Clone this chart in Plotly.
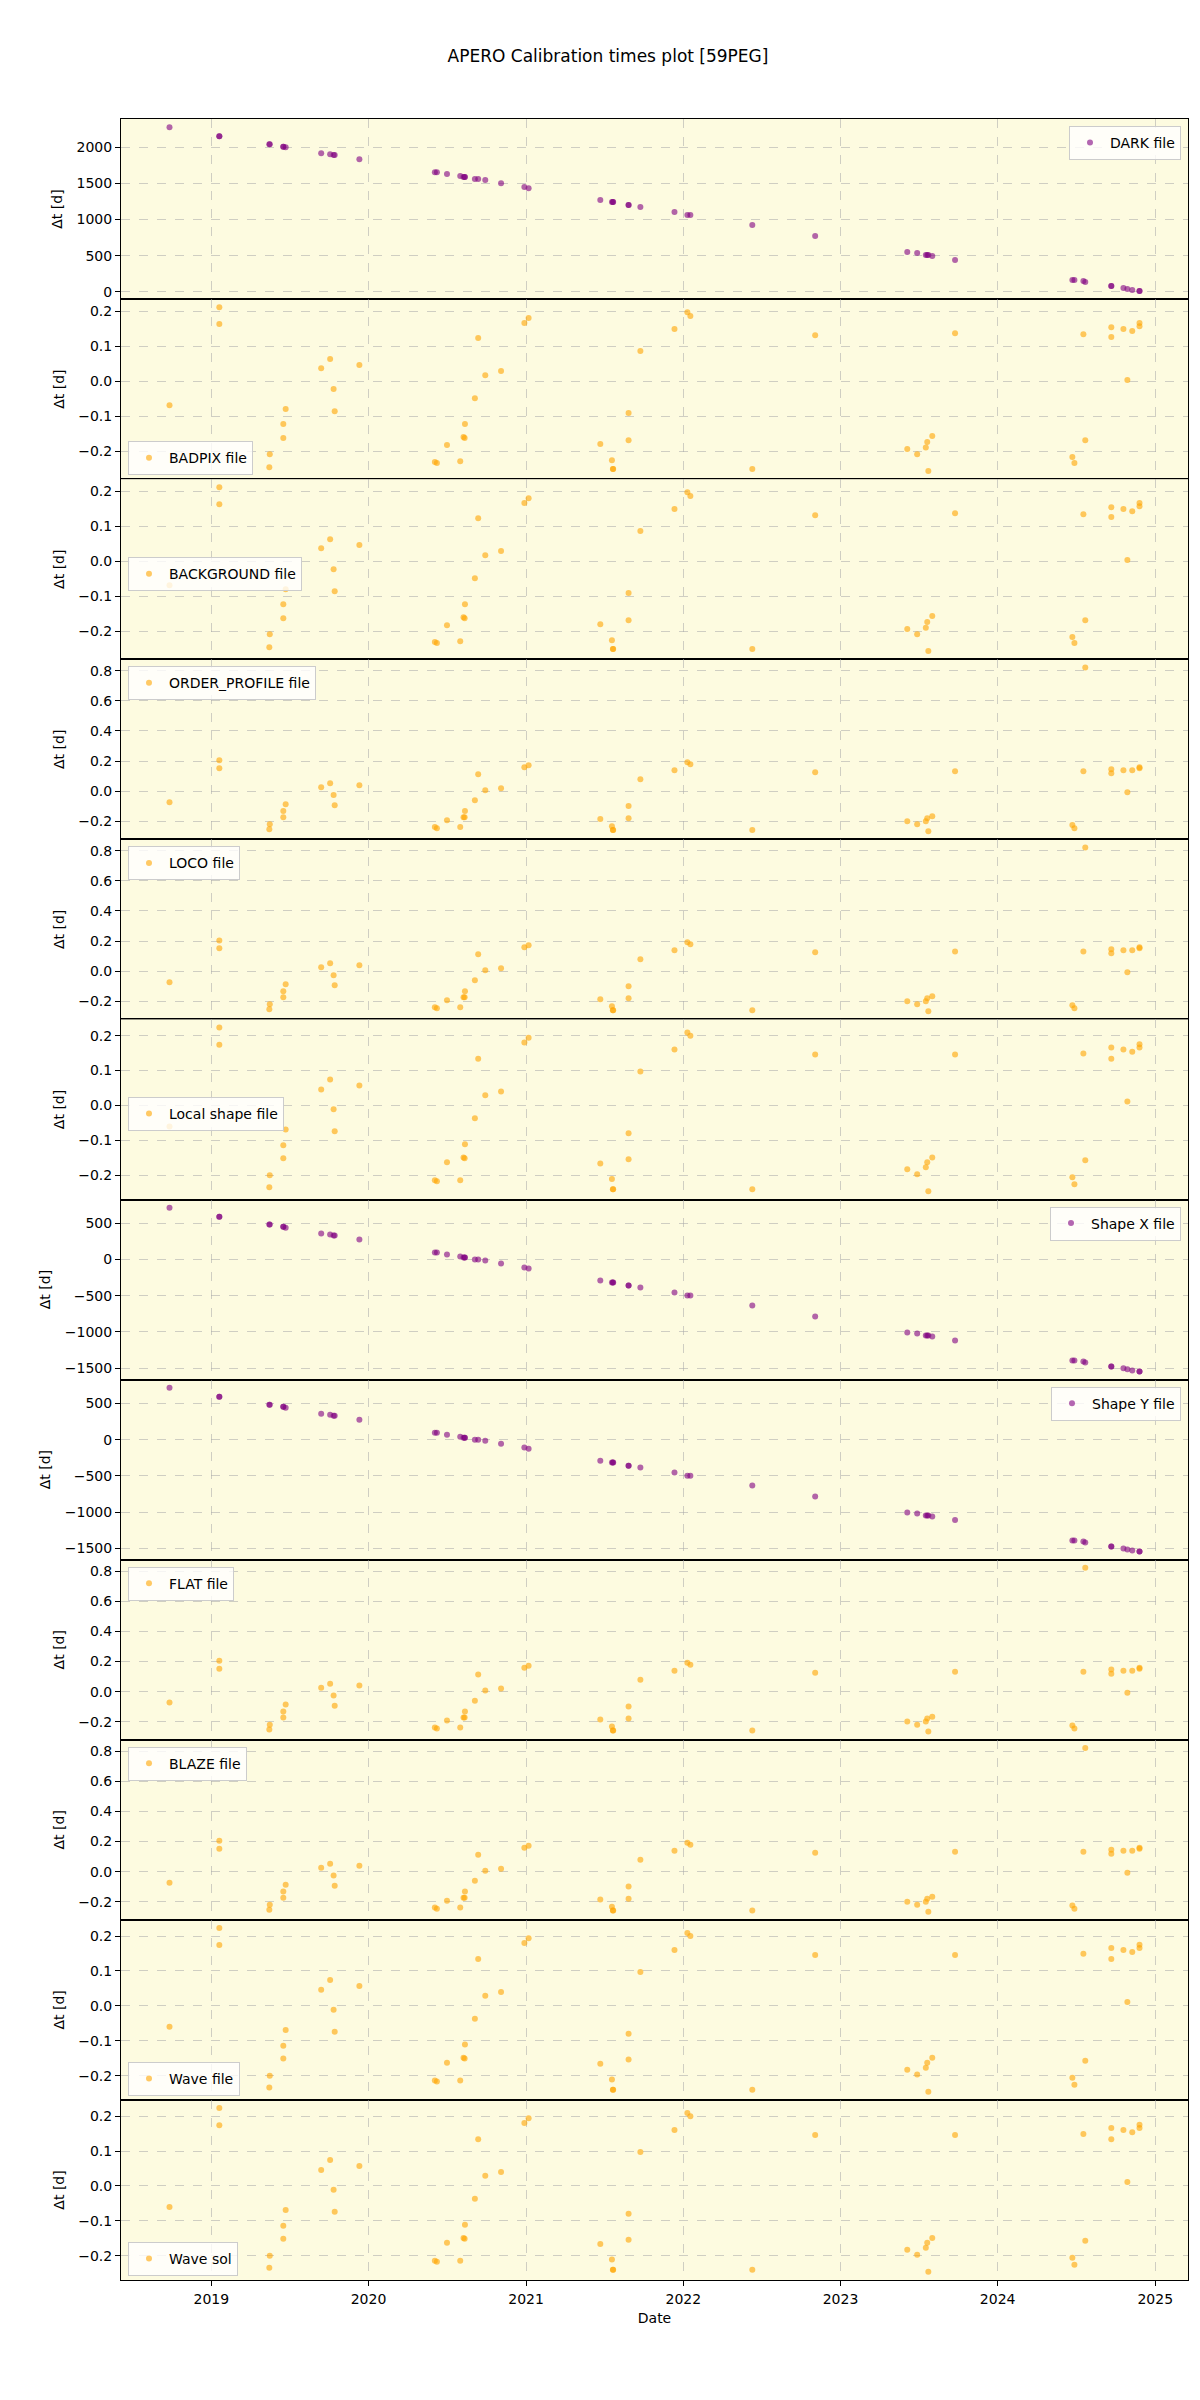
import pandas as pd
import plotly.graph_objects as go
from plotly.subplots import make_subplots

# ---------------- data ----------------
# observation dates as decimal years
obs_year = [2018.734, 2019.051, 2019.051, 2019.372, 2019.369, 2019.473, 2019.458, 2019.458,
            2019.699, 2019.756, 2019.778, 2019.785, 2019.942, 2020.421, 2020.434, 2020.498,
            2020.582, 2020.603, 2020.610, 2020.612, 2020.675, 2020.696, 2020.741, 2020.841,
            2020.989, 2021.016, 2021.472, 2021.546, 2021.552, 2021.554, 2021.652, 2021.652,
            2021.727, 2021.944, 2022.026, 2022.045, 2022.439, 2022.839, 2023.425, 2023.488,
            2023.543, 2023.552, 2023.584, 2023.559, 2023.729, 2024.474, 2024.487, 2024.544,
            2024.556, 2024.721, 2024.721, 2024.798, 2024.823, 2024.854, 2024.900, 2024.900]

dark_dt = [2276, 2152, 2152, 2041, 2041, 2000, 2005, 2005, 1917, 1903, 1890, 1890, 1834, 1655,
           1655, 1628, 1600, 1586, 1586, 1586, 1559, 1559, 1545, 1503, 1448, 1434, 1269, 1241,
           1241, 1241, 1200, 1200, 1172, 1103, 1062, 1062, 924, 772, 552, 538, 510, 510, 497,
           510, 441, 166, 166, 152, 138, 83, 83, 55, 41, 28, 14, 14]

badpix_dt = [-0.069, 0.211, 0.163, -0.209, -0.246, -0.080, -0.123, -0.163, 0.037, 0.063, -0.023,
             -0.086, 0.046, -0.231, -0.234, -0.183, -0.229, -0.160, -0.163, -0.123, -0.049, 0.123,
             0.017, 0.029, 0.166, 0.180, -0.180, -0.226, -0.251, -0.251, -0.091, -0.169, 0.086,
             0.149, 0.197, 0.186, -0.251, 0.131, -0.194, -0.209, -0.190, -0.174, -0.157, -0.257,
             0.137, -0.217, -0.234, 0.134, -0.169, 0.154, 0.126, 0.149, 0.003, 0.143, 0.166, 0.157]

background_dt = list(badpix_dt)

order_profile_dt = [-0.073, 0.205, 0.152, -0.219, -0.252, -0.086, -0.132, -0.172, 0.026, 0.053,
                    -0.026, -0.093, 0.040, -0.238, -0.245, -0.192, -0.238, -0.172, -0.172, -0.132,
                    -0.060, 0.113, 0.007, 0.020, 0.159, 0.172, -0.185, -0.232, -0.258, -0.258,
                    -0.099, -0.179, 0.079, 0.139, 0.192, 0.179, -0.258, 0.126, -0.199, -0.219,
                    -0.199, -0.179, -0.166, -0.265, 0.132, -0.225, -0.245, 0.132, 0.821, 0.146,
                    0.119, 0.139, -0.007, 0.139, 0.159, 0.152]
loco_dt = list(order_profile_dt)
flat_dt = list(order_profile_dt)
blaze_dt = list(order_profile_dt)

local_shape_dt = [-0.060, 0.223, 0.174, -0.200, -0.234, -0.069, -0.114, -0.151, 0.046, 0.074,
                  -0.011, -0.074, 0.057, -0.214, -0.217, -0.163, -0.214, -0.149, -0.151, -0.111,
                  -0.037, 0.134, 0.029, 0.040, 0.180, 0.194, -0.166, -0.211, -0.240, -0.240,
                  -0.080, -0.154, 0.097, 0.160, 0.209, 0.200, -0.240, 0.146, -0.183, -0.197,
                  -0.177, -0.163, -0.149, -0.246, 0.146, -0.206, -0.226, 0.149, -0.157, 0.166,
                  0.134, 0.160, 0.011, 0.154, 0.175, 0.166]
wave_file_dt = list(local_shape_dt)
wave_sol_dt = list(local_shape_dt)

shape_x_dt = [717, 593, 593, 483, 483, 441, 455, 455, 359, 345, 331, 331, 276, 97, 97, 69, 41, 28,
              28, 28, 0, 0, -14, -55, -110, -124, -290, -317, -317, -317, -359, -359, -386, -455,
              -497, -497, -634, -786, -1007, -1021, -1048, -1048, -1062, -1048, -1117, -1393,
              -1393, -1407, -1421, -1476, -1476, -1503, -1517, -1531, -1545, -1545]
shape_y_dt = [717, 593, 593, 483, 483, 441, 455, 455, 359, 345, 331, 331, 276, 97, 97, 69, 41, 28,
              28, 28, 0, 0, -14, -55, -110, -124, -290, -317, -317, -317, -359, -359, -386, -455,
              -497, -497, -634, -786, -1007, -1021, -1048, -1048, -1062, -1048, -1110, -1393,
              -1393, -1407, -1421, -1476, -1476, -1503, -1517, -1531, -1545, -1545]

panel_names = ["DARK file", "BADPIX file", "BACKGROUND file", "ORDER_PROFILE file", "LOCO file",
               "Local shape file", "Shape X file", "Shape Y file", "FLAT file", "BLAZE file",
               "Wave file", "Wave sol"]
panel_values = [dark_dt, badpix_dt, background_dt, order_profile_dt, loco_dt, local_shape_dt,
                shape_x_dt, shape_y_dt, flat_dt, blaze_dt, wave_file_dt, wave_sol_dt]
panel_kind = ["purple", "orange", "orange", "orange", "orange", "orange",
              "purple", "purple", "orange", "orange", "orange", "orange"]
panel_dtick = [500, 0.1, 0.1, 0.2, 0.2, 0.1, 500, 500, 0.2, 0.2, 0.1, 0.1]
panel_fmt = ["d", ".1f", ".1f", ".1f", ".1f", ".1f", "d", "d", ".1f", ".1f", ".1f", ".1f"]
# legend placement: (location, fraction-from-top for 'mid')
panel_legend = [("ur", None), ("ll", None), ("mid", 0.433), ("ul", None), ("ul", None),
                ("mid", 0.43), ("ur", None), ("ur", None), ("ul", None), ("ul", None),
                ("ll", None), ("ll", None)]

# ---------------- helpers ----------------
def dec_to_dt(y):
    yr = int(y)
    s = pd.Timestamp(yr, 1, 1)
    e = pd.Timestamp(yr + 1, 1, 1)
    return s + (e - s) * (y - yr)

dates = [dec_to_dt(y) for y in obs_year]

# the page body adds an 8px offset; margins compensate for it
W, H = 1200, 2400
L, R, T, B = 113, 20, 111, 128
n = len(panel_names)
plot_h = H - T - B
panel_h = plot_h / n

colors = {"purple": "rgba(128,0,128,0.6)", "orange": "rgba(255,165,0,0.6)"}
FONT = "DejaVu Sans"

fig = make_subplots(rows=n, cols=1, shared_xaxes=True, vertical_spacing=0)

for i, (name, vals, kind) in enumerate(zip(panel_names, panel_values, panel_kind)):
    lg = "legend" if i == 0 else f"legend{i+1}"
    fig.add_trace(go.Scatter(x=dates, y=vals, mode="markers", name=name,
                             marker=dict(size=6, color=colors[kind], line=dict(width=0)),
                             legend=lg, showlegend=True),
                  row=i + 1, col=1)

# x range with 5% margins (like matplotlib)
dmin, dmax = min(dates), max(dates)
span = dmax - dmin
xr = [dmin - span * 0.05, dmax + span * 0.05]

bg = "#FDFBE0"
grid = "rgba(170,170,170,0.55)"
for i in range(n):
    vals = panel_values[i]
    lo, hi = min(vals), max(vals)
    pad = (hi - lo) * 0.05
    fig.update_yaxes(row=i + 1, col=1, range=[lo - pad, hi + pad], dtick=panel_dtick[i],
                     tickformat=panel_fmt[i], automargin=False,
                     showline=True, linecolor="black", linewidth=1, mirror=True,
                     ticks="outside", ticklen=5, tickcolor="black",
                     showgrid=True, gridcolor=grid, griddash="dash", gridwidth=1,
                     zeroline=False,
                     tickfont=dict(family=FONT, size=14, color="black"),
                     title=dict(text="Δt [d]", font=dict(family=FONT, size=14, color="black"),
                                standoff=10))
    fig.update_xaxes(row=i + 1, col=1, range=xr, type="date", dtick="M12", tick0="2019-01-01",
                     tickformat="%Y", automargin=False,
                     showline=True, linecolor="black", linewidth=1, mirror=True,
                     showgrid=True, gridcolor=grid, griddash="dash", gridwidth=1,
                     zeroline=False,
                     ticks="outside" if i == n - 1 else "", ticklen=5, tickcolor="black",
                     showticklabels=(i == n - 1),
                     tickfont=dict(family=FONT, size=14, color="black"))

fig.update_xaxes(row=n, col=1, ticklabelstandoff=1,
                 title=dict(text="Date", font=dict(family=FONT, size=14, color="black"),
                            standoff=7))

# legends
legends = {}
pad_px = 7
for i, (loc, frac) in enumerate(panel_legend):
    top_px = T + i * panel_h
    bot_px = T + (i + 1) * panel_h
    if loc == "ur":
        x, xa = (W - R - L - pad_px) / (W - L - R), "right"
        ypx, ya = top_px + pad_px, "top"
    elif loc == "ul":
        x, xa = pad_px / (W - L - R), "left"
        ypx, ya = top_px + pad_px, "top"
    elif loc == "ll":
        x, xa = pad_px / (W - L - R), "left"
        ypx, ya = bot_px - pad_px + 3, "bottom"
    else:
        x, xa = pad_px / (W - L - R), "left"
        ypx, ya = top_px + frac * panel_h, "top"
    y = (H - B - ypx) / plot_h
    key = "legend" if i == 0 else f"legend{i+1}"
    legends[key] = dict(x=x, y=y, xanchor=xa, yanchor=ya, xref="paper", yref="paper",
                        bgcolor="rgba(255,255,255,0.8)", bordercolor="#cccccc", borderwidth=1,
                        font=dict(family=FONT, size=14, color="black"),
                        itemsizing="trace", tracegroupgap=0)

fig.update_layout(
    width=W, height=H,
    margin=dict(l=L, r=R, t=T, b=B, autoexpand=False),
    paper_bgcolor="white",
    plot_bgcolor=bg,
    title=dict(text="APERO Calibration times plot [59PEG]", x=0.5, xref="container",
               y=1 - 48 / H, yref="container", xanchor="center", yanchor="middle",
               font=dict(family=FONT, size=17, color="black")),
    **legends,
)

fig.write_html("out.html")
